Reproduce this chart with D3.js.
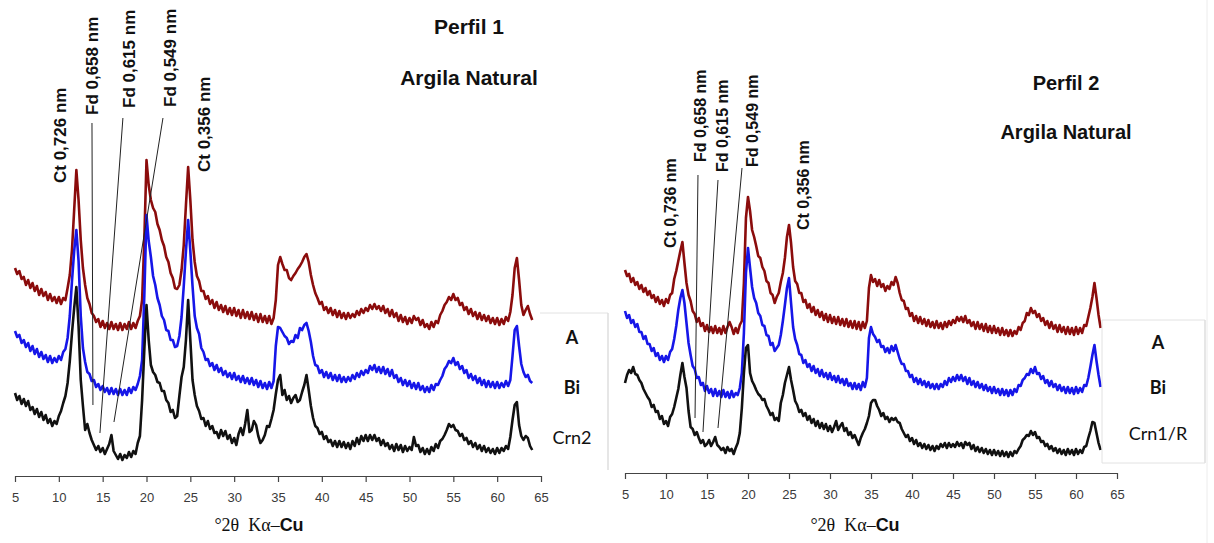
<!DOCTYPE html>
<html><head><meta charset="utf-8">
<script src="https://cdn.jsdelivr.net/npm/d3@7"></script>
<style>body{margin:0;background:#fff}svg{display:block}</style>
</head><body><svg id="c" width="1214" height="543"></svg>
<script>
// ---- shared ----
const angleStart = 5, angleStep = 0.25;
const axisTicks = [5,10,15,20,25,30,35,40,45,50,55,60,65];
const seriesNames1 = ["A","Bi","Crn2"];
const seriesNames2 = ["A","Bi","Crn1/R"];
const seriesColors = ["#8b0c0c","#1616e8","#111111"];

// ---- Perfil 1 (intensity, a.u.; 5° .. 64° every 0.25°) ----
const p1_A = [
208,202,205,197, 199,191,196,188, 193,185,190,181, 187,180,184,176, 182,175,179,173,
179,172,178,176, 188,201,226,266, 306,276,236,208, 191,178,172,163, 160,154,157,149,
155,148,153,147, 154,147,152,146, 153,146,152,147, 154,147,153,148, 155,160,176,236,
316,291,276,268, 264,252,246,236, 230,219,214,203, 198,188,187,191, 206,231,271,309,
276,236,214,200, 195,185,185,177, 180,172,176,168, 174,166,171,164, 170,162,168,161,
168,160,166,158, 166,158,164,157, 164,156,162,154, 162,154,160,153, 160,152,158,176,
211,219,212,206, 206,198,196,200, 203,207,210,214, 219,222,214,201, 191,183,178,172,
174,166,169,163, 168,161,166,159, 165,158,163,157, 163,158,162,159, 165,161,167,163,
168,165,171,167, 172,167,170,165, 170,163,167,160, 166,159,163,155, 161,154,159,152,
158,153,160,156, 158,151,156,149, 152,147,154,149, 155,153,161,165, 171,174,179,176,
182,176,178,171, 173,166,169,162, 167,160,164,157, 163,156,161,155, 160,153,158,152,
158,151,157,152, 159,155,164,181, 208,218,196,171, 161,166,170,162, 156];
const p1_Bi = [
145,139,141,133, 136,129,133,125, 130,122,127,119, 124,117,121,114, 120,113,118,114,
120,116,124,127, 138,160,195,225, 246,215,160,128, 114,104,102,95, 96,89,92,86,
90,84,88,82, 88,82,87,81, 87,81,86,81, 88,83,89,86, 92,100,116,180,
261,235,219,200, 191,178,171,160, 156,146,145,136, 136,129,130,140, 159,190,225,256,
225,190,160,148, 142,128,124,116, 117,110,113,106, 111,104,108,101, 105,99,103,97,
103,96,100,94, 100,93,98,92, 98,91,96,89, 95,88,93,87, 94,88,95,130,
149,148,144,140, 138,132,135,134, 141,138,148,146, 151,153,145,134, 120,111,110,103,
106,99,104,98, 103,96,101,95, 101,94,99,94, 99,95,101,97, 103,99,105,101,
106,103,110,106, 111,104,109,103, 109,102,107,100, 106,98,101,94, 98,91,96,90,
95,88,93,87, 93,86,90,84, 89,84,91,86, 92,91,96,100, 107,110,115,113,
118,111,114,107, 110,103,106,98, 102,96,100,93, 98,91,96,89, 95,89,94,88,
94,88,93,89, 95,90,96,120, 146,150,130,112, 104,99,101,95, 93];
const p1_Crn = [
83,76,80,72, 77,70,75,66, 69,62,67,59, 64,56,61,53, 57,50,55,52,
60,65,73,80, 93,115,143,168, 189,150,96,70, 46,52,43,36, 31,26,30,24,
28,22,27,32, 41,25,21,17, 22,16,21,18, 24,19,25,22, 33,40,76,126,
171,136,111,104, 101,94,93,85, 85,76,73,64, 66,58,60,80, 99,109,136,176,
136,96,81,70, 65,57,58,50, 55,47,50,43, 44,38,46,40, 45,37,41,33,
38,31,42,48, 41,52,66,44, 46,55,51,40, 33,36,41,50, 49,57,66,82,
96,101,81,86, 76,80,73,78, 81,74,76,84, 91,101,86,70, 58,50,48,42,
44,37,40,34, 36,30,35,29, 35,29,34,28, 33,27,35,30, 38,32,40,35,
41,35,41,36, 41,35,38,31, 36,30,33,27, 31,25,32,26, 31,24,30,25,
29,26,39,30, 31,24,28,22, 27,22,29,25, 32,28,35,37, 41,46,52,49,
51,46,45,40, 42,36,38,32, 35,29,33,27, 31,25,30,24, 28,23,27,22,
28,23,28,25, 30,27,39,56, 71,74,51,40, 36,40,38,30, 26];

// ---- Perfil 2 (5° .. 63° every 0.25°) ----
const p2_A = [
203,197,199,191, 195,188,191,184, 188,181,185,178, 182,175,178,171, 176,169,173,167,
174,170,178,180, 194,202,212,222, 231,210,190,178, 172,162,159,151, 155,147,150,142,
148,141,146,140, 147,140,145,139, 147,140,146,151, 146,139,145,140, 148,152,190,255,
276,262,243,236, 227,217,215,206, 202,192,190,180, 178,170,176,180, 191,200,215,236,
248,230,206,192, 189,180,180,171, 173,165,169,161, 166,158,163,156, 161,153,159,151,
158,150,156,149, 156,148,154,147, 154,146,152,145, 152,144,151,143, 151,145,152,185,
198,191,194,187, 193,186,189,182, 187,184,191,188, 196,190,180,173, 172,164,165,157,
160,152,157,150, 156,149,154,147, 153,146,151,145, 152,145,150,144, 151,146,152,148,
153,150,156,152, 156,151,157,150, 153,147,151,144, 151,144,149,142, 149,141,147,140,
147,140,145,138, 145,138,143,137, 143,137,142,139, 146,143,150,152, 160,158,165,160,
162,156,159,152, 155,148,152,145, 151,144,148,141, 148,141,146,139, 146,139,145,138,
146,139,145,140, 148,147,156,165, 176,190,175,158, 145];
const p2_Bi = [
162,155,158,150, 153,146,149,141, 141,134,137,129, 129,122,125,117, 120,113,117,111,
117,113,121,124, 134,147,163,175, 183,170,150,130, 118,107,104,95, 96,88,90,82,
87,80,84,77, 84,77,82,76, 83,76,81,75, 82,76,80,78, 85,100,140,200,
225,205,186,175, 170,160,157,148, 147,138,137,128, 130,122,125,128, 138,152,168,185,
195,170,146,134, 128,119,118,110, 113,106,109,102, 107,100,104,97, 103,96,100,94,
100,93,97,91, 97,90,94,88, 94,87,90,84, 90,84,89,83, 91,86,95,135,
146,139,136,131, 133,126,127,121, 125,120,127,122, 128,121,114,109, 109,102,102,96,
98,91,95,89, 94,88,92,86, 91,85,89,84, 89,84,89,86, 92,88,95,91,
96,92,98,93, 98,92,96,89, 95,88,92,86, 91,85,89,83, 88,82,86,80,
86,80,84,78, 84,78,83,77, 83,78,84,81, 88,87,93,95, 99,98,104,100,
106,99,100,94, 97,90,93,87, 92,86,89,83, 88,82,86,80, 86,80,85,79,
86,80,85,81, 88,87,95,106, 118,128,112,98, 86];
const p2_Crn = [
90,98,103,100, 106,99,98,93, 90,84,80,76, 73,66,68,61, 62,54,57,49,
52,47,56,59, 66,75,84,98, 110,96,85,62, 46,44,38,41, 35,30,33,27,
29,33,27,31, 36,28,26,23, 25,20,26,22, 24,19,25,30, 40,65,100,125,
128,100,92,88, 83,79,77,73, 74,67,63,58, 60,53,55,52, 70,78,90,98,
106,93,83,72, 68,61,63,57, 60,53,57,50, 54,47,52,45, 50,44,49,42,
47,41,46,52, 43,47,50,42, 45,38,41,35, 38,33,28,35, 40,44,50,57,
70,73,73,67, 63,57,60,54, 56,51,55,53, 55,51,50,44, 40,36,38,32,
35,29,33,27, 30,25,29,24, 28,23,27,22, 27,24,29,26, 30,25,30,26,
29,26,31,27, 30,25,31,28, 30,24,28,22, 26,21,25,20, 24,19,23,18,
23,18,22,17, 22,17,21,16, 21,17,22,20, 24,27,33,35, 38,37,42,38,
41,35,36,31, 32,27,29,24, 27,22,25,20, 24,19,23,18, 24,19,23,18,
24,19,23,20, 26,27,35,42, 51,50,40,30, 23];

// ---- peak annotations (angle °2θ, intensity level) ----
const p1PeakLabels = ["Ct 0,726 nm","Fd 0,658 nm","Fd 0,615 nm","Fd 0,549 nm","Ct 0,356 nm"];
const p1PeakAngle  = [10.82, 14.46, 18.68, 23.36, 27.23];
const p1PeakLevel  = [293, 361, 368, 369, 304];
const p1Leaders = [[13.78,353,13.89,71],[17.31,358,14.69,43],[21.88,358,16.29,54]];

const p2PeakLabels = ["Ct 0,736 nm","Fd 0,658 nm","Fd 0,615 nm","Fd 0,549 nm","Ct 0,356 nm"];
const p2PeakAngle  = [11.22, 14.88, 17.56, 21.22, 27.44];
const p2PeakLevel  = [225, 311, 301, 306, 243];
const p2Leaders = [[13.9,298,13.54,55],[16.34,293,14.51,41],[19.27,305,16.34,45]];

const svg = d3.select("#c");

// faint page border line at right
svg.append("line").attr("x1",1207).attr("x2",1207).attr("y1",0).attr("y2",543)
  .attr("stroke","#ececec").attr("stroke-width",1);

function panel(cfg){
  const x = d3.scaleLinear().domain([5,65]).range([cfg.x0, cfg.x1]);
  const y = d3.scaleLinear().domain([0,470]).range([cfg.axisY, cfg.axisY-470]);
  const g = svg.append("g");

  // traces
  const line = d3.line().x((d,i)=>x(angleStart + i*angleStep)).y(d=>y(d));
  cfg.series.forEach((s,k)=>{
    g.append("path").attr("d", line(s)).attr("fill","none")
      .attr("stroke", seriesColors[k]).attr("stroke-width",2.6)
      .attr("stroke-linejoin","round");
  });

  // leader lines
  cfg.leaders.forEach(l=>{
    g.append("line").attr("x1",x(l[0])).attr("y1",y(l[1]))
      .attr("x2",x(l[2])).attr("y2",y(l[3]))
      .attr("stroke","#222").attr("stroke-width",1);
  });

  // peak labels (rotated)
  cfg.labels.forEach((t,i)=>{
    const px = x(cfg.labelAngle[i]), py = y(cfg.labelLevel[i]);
    g.append("text").attr("transform",`translate(${px},${py}) rotate(-90)`)
      .attr("font-family","Liberation Sans, Arial, sans-serif")
      .attr("font-weight","bold").attr("font-size",cfg.labelSize)
      .attr("fill","#111").text(t);
  });

  // axis
  const ax = g.append("g").attr("transform",`translate(0,${cfg.axisY})`)
    .call(d3.axisBottom(x).tickValues(axisTicks).tickSize(6).tickPadding(11).tickSizeOuter(0));
  ax.select(".domain").attr("stroke","#444").attr("stroke-width",1.2);
  ax.selectAll(".tick line").attr("stroke","#444").attr("stroke-width",1.2);
  ax.selectAll(".tick text").attr("font-family","Liberation Sans, Arial, sans-serif")
    .attr("font-size",13).attr("fill","#3a3a3a");

  // axis title
  const tt = g.append("text").attr("x",cfg.titleX).attr("y",531).attr("text-anchor","middle")
    .attr("font-size",18).attr("fill","#111");
  tt.append("tspan").attr("font-family","Liberation Serif, Times New Roman, serif").text("°2θ\u00a0\u00a0Kα–");
  tt.append("tspan").attr("font-family","Liberation Sans, Arial, sans-serif").attr("font-weight","bold").text("Cu");

  // titles
  g.append("text").attr("x",cfg.hx).attr("y",cfg.h1y).attr("text-anchor","middle")
    .attr("font-family","Liberation Sans, Arial, sans-serif").attr("font-weight","bold")
    .attr("font-size",cfg.hSize).attr("fill","#111").text(cfg.h1);
  g.append("text").attr("x",cfg.hx).attr("y",cfg.h2y).attr("text-anchor","middle")
    .attr("font-family","Liberation Sans, Arial, sans-serif").attr("font-weight","bold")
    .attr("font-size",cfg.hSize).attr("fill","#111").text("Argila Natural");

  // legend box
  const b = cfg.box;
  if (b.left) g.append("line").attr("x1",b.x0).attr("x2",b.x0).attr("y1",b.y0).attr("y2",b.y1).attr("stroke","#e2e2e2");
  g.append("line").attr("x1",b.x0).attr("x2",b.x1).attr("y1",b.y0).attr("y2",b.y0).attr("stroke","#e2e2e2");
  g.append("line").attr("x1",b.x1).attr("x2",b.x1).attr("y1",b.y0).attr("y2",b.y1).attr("stroke","#dedede").attr("stroke-width",1.5);
  if (b.bottom) g.append("line").attr("x1",b.x0).attr("x2",b.x1).attr("y1",b.y1).attr("y2",b.y1).attr("stroke","#e2e2e2");
  cfg.names.forEach((n,i)=>{
    g.append("text").attr("x",cfg.legX).attr("y",cfg.legY[i]).attr("text-anchor","middle")
      .attr("dominant-baseline","central")
      .attr("font-family","Lato, Open Sans, sans-serif").attr("font-size",18)
      .attr("font-weight", i<2 ? "bold" : "normal").attr("fill","#111").text(n);
  });
}

panel({x0:15, x1:541, axisY:476, series:[p1_A,p1_Bi,p1_Crn], leaders:p1Leaders,
  labels:p1PeakLabels, labelAngle:p1PeakAngle, labelLevel:p1PeakLevel, labelSize:17,
  titleX:259, hx:469, h1:"Perfil 1", h1y:34, h2y:85, hSize:21,
  box:{x0:540,x1:608,y0:313,y1:470,left:false,bottom:false},
  names:seriesNames1, legX:572, legY:[337,387,437]});

panel({x0:625, x1:1117, axisY:473, series:[p2_A,p2_Bi,p2_Crn], leaders:p2Leaders,
  labels:p2PeakLabels, labelAngle:p2PeakAngle, labelLevel:p2PeakLevel, labelSize:16,
  titleX:855, hx:1066, h1:"Perfil 2", h1y:90, h2y:139, hSize:20,
  box:{x0:1102,x1:1205,y0:320,y1:463,left:true,bottom:true},
  names:seriesNames2, legX:1158, legY:[342,387,433]});
</script></body></html>
